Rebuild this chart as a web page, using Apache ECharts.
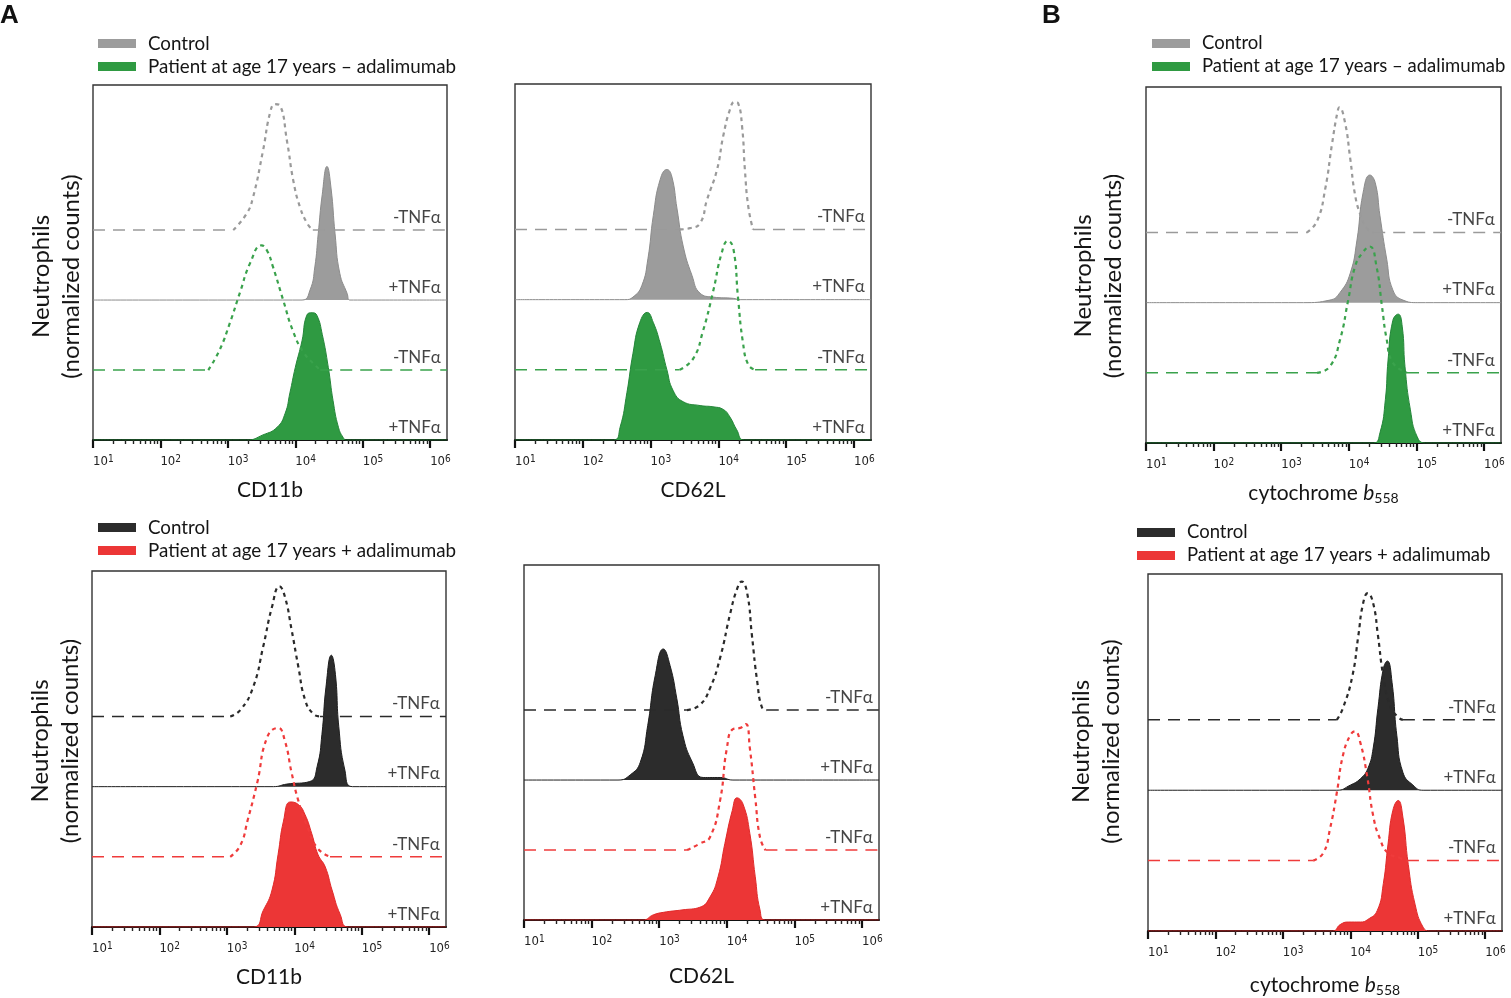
<!DOCTYPE html>
<html>
<head>
<meta charset="utf-8">
<title>Neutrophil flow cytometry histograms</title>
<script src="https://cdn.jsdelivr.net/npm/echarts@6/dist/echarts.min.js"></script>
<style>
  html, body { margin: 0; background: #fff; }
  #chart { width: 1511px; height: 998px; }
</style>
</head>
<body>
<div id="chart"></div>
<script>
// axis: log10 of fluorescence intensity, rows of stacked histograms
const X_MIN = 1, X_MAX = 6.25;
const ROW = 55;          // offset between stacked histograms (count units)
const Y_MAX = 279;
const decadeTicks = [1, 2, 3, 4, 5, 6];
const rowLabels = ['+TNFα', '-TNFα', '+TNFα', '-TNFα']; // bottom to top

// [log10 intensity, normalized count] - CD11b, top row (patient - adalimumab)
const a1CtrlMinus = [[3.08,0],[3.28,13],[3.37,25],[3.52,62],[3.63,93],[3.70,99],[3.77,98],[3.88,69],[3.97,39],[4.07,18],[4.18,5],[4.26,0]];
const a1CtrlPlus = [[4.10,0],[4.22,8],[4.29,26],[4.34,52],[4.40,83],[4.47,105],[4.53,88],[4.59,52],[4.66,21],[4.77,5],[4.81,0]];
const a1PatMinus = [[2.71,0],[2.88,16],[3.03,37],[3.18,61],[3.33,84],[3.50,98],[3.58,94],[3.67,81],[3.82,55],[3.97,30],[4.12,14],[4.27,5],[4.37,0]];
const a1PatPlus = [[3.28,0],[3.52,4],[3.73,10],[3.85,21],[3.92,37],[4.00,57],[4.10,78],[4.17,98],[4.25,100],[4.32,98],[4.40,83],[4.49,57],[4.56,31],[4.64,10],[4.71,2],[4.76,0]];

// CD62L, top row
const a2CtrlMinus = [[3.43,0],[3.58,1],[3.73,5],[3.83,23],[3.98,47],[4.07,73],[4.17,94],[4.24,100],[4.29,99],[4.35,80],[4.39,47],[4.44,18],[4.51,0]];
const a2CtrlPlus = [[2.62,0],[2.74,2],[2.87,11],[2.96,32],[3.04,66],[3.14,94],[3.24,102],[3.31,97],[3.39,71],[3.48,42],[3.61,19],[3.73,5],[3.92,2],[4.22,1],[4.32,0]];
const a2PatMinus = [[3.43,0],[3.63,9],[3.77,30],[3.92,61],[4.05,92],[4.14,101],[4.22,95],[4.29,56],[4.36,22],[4.44,4],[4.54,0]];
const a2PatPlus = [[2.45,0],[2.55,10],[2.65,37],[2.74,68],[2.84,92],[2.95,100],[3.04,92],[3.14,76],[3.24,55],[3.33,39],[3.48,30],[3.73,27],[3.92,26],[4.07,24],[4.17,18],[4.27,8],[4.38,0]];

// cytochrome b558, top row
const b1CtrlMinus = [[3.38,0],[3.53,9],[3.65,34],[3.75,69],[3.83,94],[3.86,98],[3.94,87],[4.02,58],[4.09,30],[4.17,14],[4.27,3],[4.36,0]];
const b1CtrlPlus = [[3.33,0],[3.72,2],[3.87,8],[4.02,23],[4.12,49],[4.21,86],[4.31,100],[4.39,94],[4.46,68],[4.56,34],[4.65,10],[4.80,2],[5.02,0]];
const b1PatMinus = [[3.53,0],[3.72,5],[3.87,26],[3.99,57],[4.09,83],[4.20,94],[4.31,99],[4.41,83],[4.49,52],[4.56,26],[4.65,8],[4.86,0]];
const b1PatPlus = [[4.36,0],[4.46,8],[4.54,34],[4.58,65],[4.65,96],[4.73,101],[4.79,91],[4.83,60],[4.91,26],[5.01,5],[5.13,0]];

// CD11b, bottom row (patient + adalimumab)
const a3CtrlMinus = [[3.05,0],[3.20,5],[3.39,23],[3.54,55],[3.67,86],[3.78,102],[3.86,94],[3.96,68],[4.06,39],[4.16,13],[4.28,2],[4.38,0]];
const a3CtrlPlus = [[3.69,0],[3.89,2],[4.23,4],[4.34,16],[4.41,41],[4.47,78],[4.55,103],[4.61,88],[4.66,47],[4.75,13],[4.86,0]];
const a3PatMinus = [[3.05,0],[3.20,9],[3.31,29],[3.45,58],[3.60,94],[3.76,101],[3.86,91],[3.96,66],[4.06,44],[4.19,24],[4.34,7],[4.53,0]];
const a3PatPlus = [[3.39,0],[3.54,13],[3.67,29],[3.76,57],[3.84,83],[3.94,98],[4.06,96],[4.16,88],[4.26,73],[4.35,57],[4.46,47],[4.56,29],[4.68,10],[4.80,0]];

// CD62L, bottom row
const a4CtrlMinus = [[3.41,0],[3.60,4],[3.75,17],[3.90,41],[4.05,76],[4.15,95],[4.22,101],[4.30,92],[4.37,59],[4.45,22],[4.52,2],[4.59,0]];
const a4CtrlPlus = [[2.39,0],[2.57,4],[2.72,14],[2.83,43],[2.94,82],[3.06,103],[3.16,90],[3.26,64],[3.35,35],[3.49,14],[3.65,2],[3.90,2],[4.09,0]];
const a4PatMinus = [[3.41,0],[3.60,5],[3.75,10],[3.90,39],[4.00,80],[4.09,95],[4.20,96],[4.28,99],[4.34,80],[4.42,41],[4.49,10],[4.57,0]];
const a4PatPlus = [[2.76,0],[2.91,4],[3.06,6],[3.35,8],[3.60,10],[3.75,18],[3.87,34],[3.97,60],[4.08,86],[4.15,96],[4.24,91],[4.34,68],[4.42,34],[4.49,8],[4.57,0]];

// cytochrome b558, bottom row
const b2CtrlMinus = [[3.80,0],[3.89,9],[4.03,34],[4.12,66],[4.19,91],[4.26,99],[4.34,91],[4.41,66],[4.49,34],[4.59,11],[4.71,2],[4.78,0]];
const b2CtrlPlus = [[3.80,0],[4.00,4],[4.15,9],[4.26,17],[4.34,33],[4.41,64],[4.49,95],[4.55,101],[4.62,84],[4.69,43],[4.78,14],[4.93,4],[5.08,0]];
const b2PatMinus = [[3.45,0],[3.60,6],[3.70,25],[3.80,53],[3.89,82],[4.00,98],[4.07,101],[4.15,92],[4.25,66],[4.34,35],[4.44,17],[4.56,6],[4.74,2],[4.84,0]];
const b2PatPlus = [[3.74,0],[3.85,5],[3.97,7],[4.15,7],[4.26,9],[4.40,16],[4.49,37],[4.56,68],[4.63,94],[4.71,102],[4.78,89],[4.86,52],[4.96,21],[5.08,3],[5.18,0]];

const minorTicks = [];
for (let d = 1; d <= 5; d++) {
    for (let k = 2; k <= 9; k++) minorTicks.push(d + Math.log10(k));
}

const FONT = 'Lato';
const INK = '#151515';
const gray = { fill: '#9c9c9c', edge: '#8c8c8c', line: '#9a9a9a' };
const green = { fill: '#2f9a42', edge: '#25863a', line: '#3aa24c' };
const black = { fill: '#2c2c2c', edge: '#1e1e1e', line: '#2a2a2a' };
const red = { fill: '#ec3636', edge: '#e02a2a', line: '#ef3b3b' };
const patMinusName = 'Patient at age 17 years – adalimumab';
const patPlusName = 'Patient at age 17 years + adalimumab';

const yTitle = 'Neutrophils\n(normalized counts)';
const cytoName = '{n|cytochrome }{i|b}{sub|558}';

// yPad shifts the rotated y title along the box (positive = down)
const panels = [
    { grid: { left: 93, top: 85, width: 354, height: 355 }, curves: [a1PatPlus, a1PatMinus, a1CtrlPlus, a1CtrlMinus], ctrl: gray, pat: green, patName: patMinusName, xName: 'CD11b', xGap: 40, yName: true, yGap: 7, yPad: 28 },
    { grid: { left: 515, top: 84, width: 356, height: 356 }, curves: [a2PatPlus, a2PatMinus, a2CtrlPlus, a2CtrlMinus], ctrl: gray, pat: green, patName: patMinusName, xName: 'CD62L', xGap: 40, yName: false },
    { grid: { left: 1146, top: 87, width: 355, height: 356 }, curves: [b1PatPlus, b1PatMinus, b1CtrlPlus, b1CtrlMinus], ctrl: gray, pat: green, patName: patMinusName, xName: cytoName, xGap: 38, yName: true, yGap: 18, yPad: 22 },
    { grid: { left: 92, top: 571, width: 354, height: 356 }, curves: [a3PatPlus, a3PatMinus, a3CtrlPlus, a3CtrlMinus], ctrl: black, pat: red, patName: patPlusName, xName: 'CD11b', xGap: 40, yName: true, yGap: 7, yPad: -16 },
    { grid: { left: 524, top: 565, width: 355, height: 355 }, curves: [a4PatPlus, a4PatMinus, a4CtrlPlus, a4CtrlMinus], ctrl: black, pat: red, patName: patPlusName, xName: 'CD62L', xGap: 46, yName: false },
    { grid: { left: 1148, top: 574, width: 354, height: 357 }, curves: [b2PatPlus, b2PatMinus, b2CtrlPlus, b2CtrlMinus], ctrl: black, pat: red, patName: patPlusName, xName: cytoName, xGap: 42, yName: true, yGap: 22, yPad: -22 }
];

const tickFont = "'Liberation Sans Narrow', 'DejaVu Sans Condensed', 'Liberation Sans', sans-serif";
const grids = [], xAxes = [], yAxes = [], series = [];

panels.forEach((p, i) => {
    grids.push(Object.assign({ show: true, borderColor: '#333', borderWidth: 1.4, backgroundColor: '#fff' }, p.grid));

    // decade ticks and labels
    xAxes.push({
        type: 'value', gridIndex: i, min: X_MIN, max: X_MAX, position: 'bottom',
        axisLine: { show: true, lineStyle: { color: '#111', width: 1.8 } },
        axisTick: { show: true, customValues: decadeTicks, length: 8, lineStyle: { color: '#111', width: 2.2 } },
        axisLabel: {
            show: true, customValues: decadeTicks, align: 'left', margin: 14,
            formatter: v => '{b|10}{s|' + v + '}',
            rich: {
                b: { fontSize: 13, lineHeight: 16, fontFamily: tickFont, color: '#222' },
                s: { fontSize: 10, lineHeight: 10, verticalAlign: 'top', fontFamily: tickFont, color: '#222' }
            }
        },
        splitLine: { show: false },
        name: p.xName, nameLocation: 'middle', nameGap: p.xGap,
        nameTextStyle: {
            fontSize: 21, fontFamily: FONT, color: INK,
            rich: {
                n: { fontSize: 21, fontFamily: FONT, color: INK, lineHeight: 24 },
                i: { fontSize: 21, fontFamily: FONT, fontStyle: 'italic', color: INK, lineHeight: 24 },
                sub: { fontSize: 14, fontFamily: FONT, color: INK, lineHeight: 10, verticalAlign: 'bottom' }
            }
        }
    });
    // minor (log) ticks
    xAxes.push({
        type: 'value', gridIndex: i, min: X_MIN, max: X_MAX, position: 'bottom',
        axisLine: { show: false },
        axisTick: { show: true, customValues: minorTicks, length: 4, lineStyle: { color: '#222', width: 1.4 } },
        axisLabel: { show: false },
        splitLine: { show: false }
    });
    const pad = p.yPad || 0;
    yAxes.push({
        type: 'value', gridIndex: i, min: 0, max: Y_MAX, show: p.yName,
        axisLine: { show: false }, axisTick: { show: false }, axisLabel: { show: false }, splitLine: { show: false },
        name: p.yName ? yTitle : '', nameLocation: 'middle', nameGap: p.yGap || 0,
        nameTextStyle: {
            fontSize: 24, lineHeight: 30, fontFamily: FONT, color: INK,
            padding: [0, Math.max(pad, 0), 0, Math.max(-pad, 0)]
        }
    });

    p.curves.forEach((curve, r) => {
        const base = r * ROW;
        const col = r < 2 ? p.pat : p.ctrl;
        const pts = curve.map(([x, y]) => [x, base + y]);
        if (r % 2 === 0) {
            // +TNFa: filled histogram with a solid baseline across the plot
            series.push({
                type: 'line', name: r < 2 ? p.patName : 'Control',
                xAxisIndex: 2 * i, yAxisIndex: i,
                data: [[X_MIN, base]].concat(pts, [[X_MAX, base]]),
                symbol: 'none', smooth: 0.5,
                lineStyle: { color: col.edge, width: 1 },
                areaStyle: { color: col.fill, opacity: 1, origin: base },
                z: 2, silent: true
            });
        } else {
            // -TNFa: dashed outline; long dashes on the flat parts
            const flat = { color: col.line, width: 1.5, type: [12, 8] };
            series.push({
                type: 'line', xAxisIndex: 2 * i, yAxisIndex: i, data: pts,
                symbol: 'none', smooth: 0.5,
                lineStyle: { color: col.line, width: 2.2, type: [4, 4] }, z: 3, silent: true
            });
            series.push({
                type: 'line', xAxisIndex: 2 * i, yAxisIndex: i,
                data: [[X_MIN, base], [curve[0][0], base]],
                symbol: 'none', lineStyle: flat, z: 3, silent: true
            });
            series.push({
                type: 'line', xAxisIndex: 2 * i, yAxisIndex: i,
                data: [[curve[curve.length - 1][0], base], [X_MAX, base]],
                symbol: 'none', lineStyle: flat, z: 3, silent: true
            });
        }
    });

    series.push({
        type: 'scatter', xAxisIndex: 2 * i, yAxisIndex: i, symbolSize: 0, z: 4, silent: true,
        data: rowLabels.map((t, r) => [6.16, r * ROW + 10]),
        label: {
            show: true, position: 'left', distance: 0,
            formatter: d => rowLabels[d.dataIndex],
            fontSize: 17, fontFamily: FONT, color: INK
        }
    });
});

function legendBlock(left, top, ctrlCol, patCol, patName, size) {
    return {
        orient: 'vertical', left: left, top: top, icon: 'rect', padding: 0,
        itemWidth: 38, itemHeight: 9, itemGap: 4, selectedMode: false,
        itemStyle: { borderWidth: 0 },
        textStyle: { fontSize: size, fontFamily: FONT, color: INK, padding: [0, 0, 0, 7] },
        data: [
            { name: 'Control', itemStyle: { color: ctrlCol.fill } },
            { name: patName, itemStyle: { color: patCol.fill } }
        ]
    };
}

const chart = echarts.init(document.getElementById('chart'));
chart.setOption({
    animation: false,
    backgroundColor: '#fff',
    title: [
        { text: 'A', left: 0, top: 3, padding: 0, textStyle: { fontSize: 26, fontWeight: 'bold', fontFamily: 'Liberation Sans', color: '#111' } },
        { text: 'B', left: 1042, top: 3, padding: 0, textStyle: { fontSize: 26, fontWeight: 'bold', fontFamily: 'Liberation Sans', color: '#111' } }
    ],
    legend: [
        legendBlock(98, 34, gray, green, patMinusName, 18.8),
        legendBlock(1152, 34, gray, green, patMinusName, 18.5),
        legendBlock(98, 518, black, red, patPlusName, 18.8),
        legendBlock(1137, 523, black, red, patPlusName, 18.5)
    ],
    grid: grids,
    xAxis: xAxes,
    yAxis: yAxes,
    series: series
});
</script>
</body>
</html>
